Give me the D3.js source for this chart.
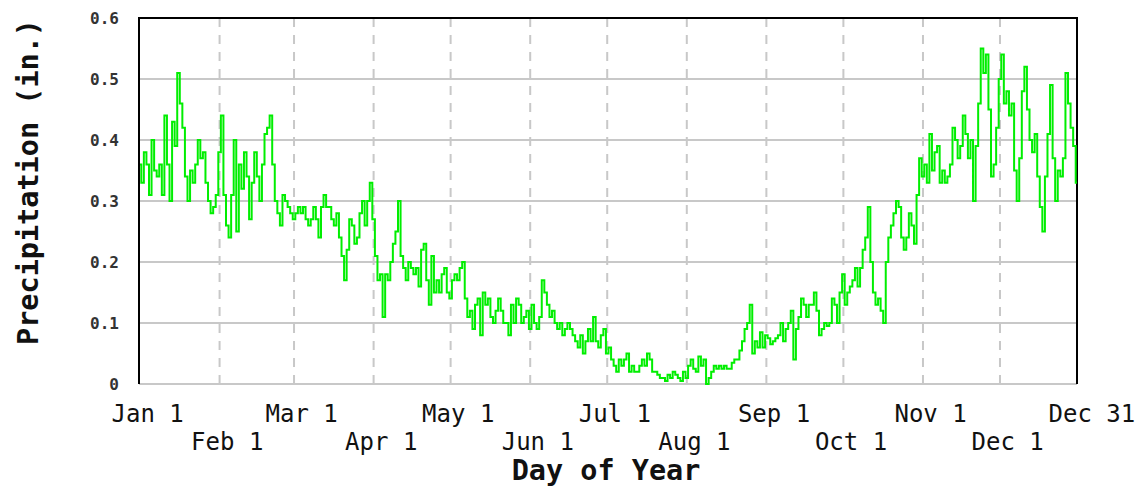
<!DOCTYPE html>
<html>
<head>
<meta charset="utf-8">
<script src="https://cdn.jsdelivr.net/npm/d3@7"></script>
<style>
  body { margin: 0; background: #fff; }
  svg { display: block; }
  .tick-y text { font-family: "DejaVu Sans Mono", monospace; font-size: 16px; font-weight: bold; fill: #333; }
  .tick-x text { font-family: "DejaVu Sans Mono", monospace; font-size: 24px; fill: #111; }
  .axis-title { font-family: "DejaVu Sans Mono", monospace; font-weight: bold; font-size: 28.5px; fill: #111; }
</style>
</head>
<body>
<div id="chart"></div>
<script>
// daily mean precipitation (in.), leap year, one array per month
const jan = [0.36,0.33,0.38,0.36,0.31,0.40,0.35,0.34,0.36,0.31,0.44,0.36,0.30,0.43,0.39,0.51,0.46,0.42,0.34,0.30,0.35,0.33,0.36,0.40,0.37,0.38,0.33,0.30,0.28,0.29,0.31];
const feb = [0.38,0.44,0.31,0.26,0.24,0.31,0.40,0.25,0.36,0.32,0.38,0.34,0.27,0.33,0.38,0.34,0.30,0.36,0.41,0.42,0.44,0.36,0.30,0.28,0.26,0.31,0.30,0.29,0.28];
const mar = [0.27,0.28,0.29,0.28,0.29,0.27,0.26,0.27,0.29,0.27,0.24,0.29,0.31,0.29,0.29,0.27,0.26,0.28,0.24,0.21,0.17,0.22,0.27,0.26,0.23,0.24,0.28,0.30,0.26,0.30,0.33];
const apr = [0.27,0.21,0.17,0.18,0.11,0.18,0.17,0.20,0.23,0.25,0.30,0.21,0.19,0.17,0.20,0.19,0.18,0.19,0.16,0.22,0.23,0.17,0.13,0.21,0.15,0.17,0.15,0.18,0.19,0.15];
const may = [0.14,0.17,0.18,0.17,0.19,0.20,0.14,0.11,0.12,0.09,0.13,0.14,0.08,0.15,0.13,0.14,0.11,0.10,0.12,0.14,0.12,0.10,0.10,0.08,0.13,0.10,0.14,0.13,0.10,0.11,0.12];
const jun = [0.09,0.13,0.10,0.09,0.11,0.17,0.15,0.13,0.11,0.12,0.10,0.09,0.10,0.08,0.09,0.10,0.09,0.08,0.07,0.06,0.08,0.05,0.07,0.09,0.07,0.11,0.07,0.06,0.08,0.09];
const jul = [0.05,0.06,0.04,0.03,0.02,0.04,0.03,0.04,0.05,0.02,0.03,0.02,0.02,0.03,0.04,0.03,0.05,0.04,0.02,0.02,0.015,0.01,0.01,0.005,0.015,0.01,0.02,0.015,0.01,0.005,0.02];
const aug = [0.01,0.03,0.04,0.025,0.02,0.045,0.03,0.04,0.0,0.01,0.02,0.03,0.025,0.03,0.025,0.03,0.025,0.025,0.035,0.04,0.04,0.055,0.07,0.09,0.10,0.13,0.05,0.07,0.06,0.085,0.06];
const sep = [0.08,0.075,0.065,0.07,0.075,0.08,0.10,0.07,0.09,0.10,0.12,0.04,0.09,0.11,0.14,0.13,0.11,0.13,0.13,0.15,0.12,0.08,0.09,0.10,0.095,0.10,0.14,0.13,0.10,0.15];
const oct = [0.18,0.13,0.15,0.16,0.17,0.19,0.16,0.19,0.22,0.24,0.29,0.20,0.15,0.13,0.14,0.12,0.10,0.20,0.24,0.26,0.28,0.30,0.29,0.24,0.22,0.24,0.28,0.26,0.23,0.31,0.37];
const nov = [0.34,0.36,0.33,0.41,0.35,0.38,0.39,0.33,0.35,0.33,0.34,0.36,0.42,0.40,0.37,0.39,0.44,0.41,0.37,0.40,0.30,0.39,0.46,0.55,0.51,0.54,0.45,0.34,0.36,0.42];
const dec = [0.50,0.54,0.46,0.48,0.44,0.46,0.35,0.30,0.37,0.48,0.52,0.45,0.40,0.38,0.41,0.34,0.29,0.25,0.34,0.41,0.49,0.37,0.30,0.35,0.34,0.37,0.51,0.46,0.42,0.39,0.33];

const tickDays = [1, 32, 61, 92, 122, 153, 183, 214, 245, 275, 306, 336, 366];
const tickLabels = ["Jan 1", "Feb 1", "Mar 1", "Apr 1", "May 1", "Jun 1", "Jul 1", "Aug 1", "Sep 1", "Oct 1", "Nov 1", "Dec 1", "Dec 31"];
const yTicks = [0, 0.1, 0.2, 0.3, 0.4, 0.5, 0.6];

const months = [jan, feb, mar, apr, may, jun, jul, aug, sep, oct, nov, dec];
const data = months.flat().map((v, i) => ({ day: i + 1, value: v }));

const width = 1140, height = 486;
const plot = { left: 139, right: 1077, top: 18, bottom: 384 };

const svg = d3.select("#chart").append("svg")
  .attr("width", width)
  .attr("height", height);

svg.append("rect").attr("width", width).attr("height", height).attr("fill", "#fff");

const x = d3.scaleLinear().domain([1, 366]).range([plot.left + 1, plot.right]);
const y = d3.scaleLinear().domain([0, 0.6]).range([plot.bottom, plot.top]);

// grid
svg.append("g")
  .selectAll("line")
  .data(yTicks.filter(d => d > 0 && d < 0.6))
  .join("line")
  .attr("x1", plot.left).attr("x2", plot.right)
  .attr("y1", d => y(d)).attr("y2", d => y(d))
  .attr("stroke", "#c8c8c8").attr("stroke-width", 2);

svg.append("g")
  .selectAll("line")
  .data(tickDays.slice(1, -1))
  .join("line")
  .attr("x1", d => x(d)).attr("x2", d => x(d))
  .attr("y1", plot.top).attr("y2", plot.bottom)
  .attr("stroke", "#c8c8c8").attr("stroke-width", 2)
  .attr("stroke-dasharray", "9,8");

// bottom edge (grey) and frame (black)
svg.append("line")
  .attr("x1", plot.left).attr("x2", plot.right)
  .attr("y1", plot.bottom).attr("y2", plot.bottom)
  .attr("stroke", "#c8c8c8").attr("stroke-width", 2);

svg.append("path")
  .attr("d", `M${plot.left},${plot.bottom}V${plot.top}H${plot.right}V${plot.bottom}`)
  .attr("fill", "none").attr("stroke", "#000").attr("stroke-width", 2);

// the series
const line = d3.line()
  .curve(d3.curveStep)
  .x(d => x(d.day))
  .y(d => y(d.value));

svg.append("path")
  .datum(data)
  .attr("d", line)
  .attr("fill", "none")
  .attr("stroke", "#00ee00")
  .attr("stroke-width", 2);

// y axis labels
svg.append("g")
  .attr("class", "tick-y")
  .attr("transform", `translate(${plot.left}, 0)`)
  .call(d3.axisLeft(y).tickValues(yTicks).tickSize(0).tickPadding(20)
    .tickFormat(d => d === 0 ? "0" : d3.format(".1f")(d)))
  .call(g => g.select(".domain").remove());

// x axis labels, alternating rows
svg.append("g")
  .attr("class", "tick-x")
  .attr("transform", `translate(0, ${plot.bottom})`)
  .call(d3.axisBottom(x).tickValues(tickDays).tickSize(0)
    .tickFormat((d, i) => tickLabels[i]))
  .call(g => g.select(".domain").remove())
  .call(g => g.selectAll(".tick text")
    .attr("text-anchor", "start")
    .attr("x", -29)
    .attr("dy", null)
    .attr("y", (d, i) => i % 2 === 0 ? 38 : 66));

svg.append("text")
  .attr("class", "axis-title")
  .attr("x", 606)
  .attr("y", 480)
  .attr("text-anchor", "middle")
  .text("Day of Year");

svg.append("text")
  .attr("class", "axis-title")
  .attr("transform", "translate(38, 182) rotate(-90)")
  .attr("text-anchor", "middle")
  .text("Precipitation (in.)");
</script>
</body>
</html>
